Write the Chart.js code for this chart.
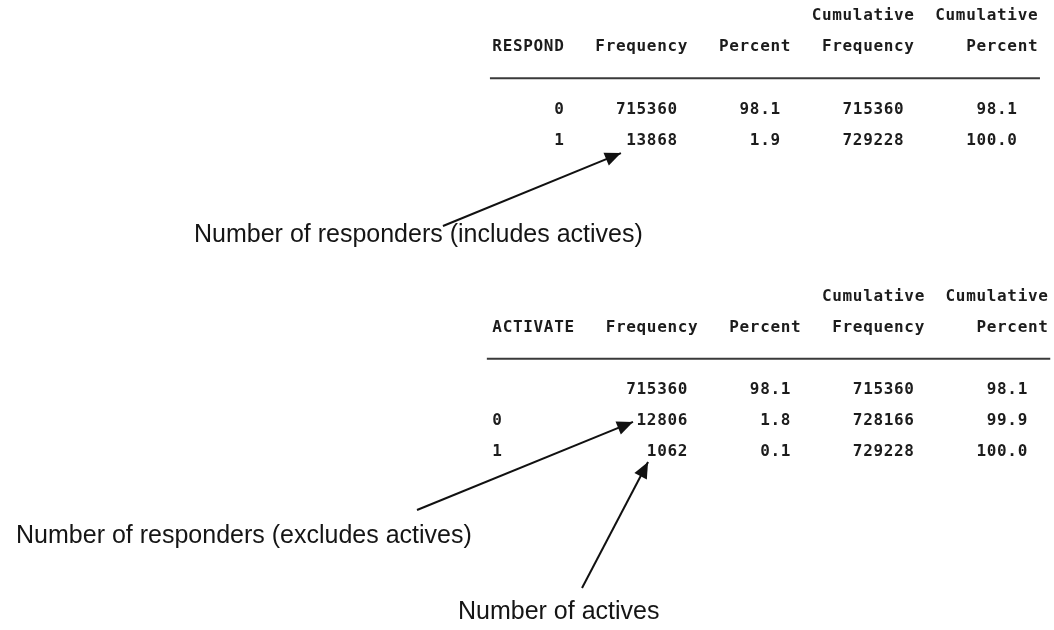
<!DOCTYPE html>
<html>
<head>
<meta charset="utf-8">
<script src="https://cdn.jsdelivr.net/npm/chart.js@4.4.1/dist/chart.umd.min.js"></script>
<style>
  html, body { margin: 0; padding: 0; background: #ffffff; }
  #wrap { width: 1054px; height: 630px; position: relative; }
</style>
</head>
<body>
<div id="wrap"><canvas id="freqChart"></canvas></div>
<script>
// =====================================================
//  DATA — two PROC FREQ listings (RESPOND, ACTIVATE)
// =====================================================
const topHeads      = ["", "", "", "Cumulative", "Cumulative"];
const respondHeads  = ["RESPOND", "Frequency", "Percent", "Frequency", "Percent"];
const activateHeads = ["ACTIVATE", "Frequency", "Percent", "Frequency", "Percent"];

const respondLevels  = ["0", "1"];
const respondFreq    = [715360, 13868];
const respondPct     = [98.1, 1.9];
const respondCumFreq = [715360, 729228];
const respondCumPct  = [98.1, 100.0];

const activateLevels  = ["", "0", "1"];
const activateFreq    = [715360, 12806, 1062];
const activatePct     = [98.1, 1.8, 0.1];
const activateCumFreq = [715360, 728166, 729228];
const activateCumPct  = [98.1, 99.9, 100.0];

const noteTexts = [
  "Number of responders (includes actives)",
  "Number of responders (excludes actives)",
  "Number of actives"
];

// =====================================================
//  LAYOUT — listing grid: x = character column, y = line
// =====================================================
const CHAR_W = 10.3;     // px per character column
const LINE_H = 31.15;    // px per listing line
const ORIGIN_X = 492;    // px of column 0
const ORIGIN_Y = 16;     // px of line 0

const tables = [
  {
    top: 0, heads: respondHeads, levels: respondLevels, levelAlign: "right",
    cols: [respondFreq, respondPct, respondCumFreq, respondCumPct],
    headEnd: [7, 19, 29, 41, 53], valEnd: [7, 18, 28, 40, 51],
    rule: [-0.2, 53.2]
  },
  {
    top: 9, heads: activateHeads, levels: activateLevels, levelAlign: "left",
    cols: [activateFreq, activatePct, activateCumFreq, activateCumPct],
    headEnd: [8, 20, 30, 42, 54], valEnd: [0, 19, 29, 41, 52],
    rule: [-0.5, 54.2]
  }
];

// note label anchors (left edge, middle line) and arrows (tail -> tip)
const notePos = [
  { col: -28.93, line: 7.03 },
  { col: -46.21, line: 16.69 },
  { col: -3.30,  line: 19.13 }
];
const arrowPos = [
  { from: { x: -4.76, y: 6.74 },  to: { x: 12.52, y: 4.40 } },
  { from: { x: -7.28, y: 15.86 }, to: { x: 13.69, y: 13.03 } },
  { from: { x: 8.74,  y: 18.36 }, to: { x: 15.15, y: 14.32 } }
];

const fmtCol = [v => String(v), v => v.toFixed(1), v => String(v), v => v.toFixed(1)];

// rule lines + arrows as line datasets
const datasets = [];
tables.forEach(t => {
  datasets.push({
    data: [{ x: t.rule[0], y: t.top + 2 }, { x: t.rule[1], y: t.top + 2 }],
    showLine: true, borderColor: "#3a3a3a", borderWidth: 2, pointRadius: 0
  });
});
arrowPos.forEach(a => {
  datasets.push({
    data: [a.from, a.to], arrow: true,
    showLine: true, borderColor: "#111111", borderWidth: 2, pointRadius: 0
  });
});

// =====================================================
//  PLUGIN — listing text, notes and arrow heads
// =====================================================
const listingPlugin = {
  id: "listing",
  beforeDraw(chart) {
    const { ctx, width, height } = chart;
    ctx.save();
    ctx.fillStyle = "#ffffff";
    ctx.fillRect(0, 0, width, height);
    ctx.restore();
  },
  afterDatasetsDraw(chart) {
    const { ctx } = chart;
    const xs = chart.scales.x, ys = chart.scales.y;

    // monospace text, one glyph per character cell
    const mono = (text, start, line) => {
      const y = ys.getPixelForValue(line);
      for (let i = 0; i < text.length; i++) {
        ctx.fillText(text[i], xs.getPixelForValue(start + i + 0.5), y);
      }
    };

    ctx.save();
    ctx.fillStyle = "#1c1c1c";
    ctx.font = "bold 16px 'DejaVu Sans Mono'";
    ctx.textAlign = "center";
    ctx.textBaseline = "middle";

    tables.forEach(t => {
      topHeads.forEach((h, i) => { if (h) mono(h, t.headEnd[i] - h.length, t.top); });
      t.heads.forEach((h, i) => mono(h, t.headEnd[i] - h.length, t.top + 1));
      t.levels.forEach((lv, r) => {
        const line = t.top + 3 + r;
        if (lv) mono(lv, t.levelAlign === "left" ? t.valEnd[0] : t.valEnd[0] - lv.length, line);
        t.cols.forEach((col, c) => {
          const s = fmtCol[c](col[r]);
          mono(s, t.valEnd[c + 1] - s.length, line);
        });
      });
    });

    // annotation labels
    ctx.font = "25px 'Liberation Sans', Arial, sans-serif";
    ctx.textAlign = "left";
    ctx.fillStyle = "#151515";
    noteTexts.forEach((txt, i) => {
      ctx.fillText(txt, xs.getPixelForValue(notePos[i].col), ys.getPixelForValue(notePos[i].line));
    });

    // arrow heads at the tip of each arrow dataset
    ctx.fillStyle = "#111111";
    chart.data.datasets.forEach((ds, i) => {
      if (!ds.arrow) return;
      const pts = chart.getDatasetMeta(i).data;
      const p0 = pts[0], p1 = pts[1];
      const ang = Math.atan2(p1.y - p0.y, p1.x - p0.x);
      const len = 16, half = 7;
      ctx.beginPath();
      ctx.moveTo(p1.x, p1.y);
      ctx.lineTo(p1.x - len * Math.cos(ang) + half * Math.sin(ang),
                 p1.y - len * Math.sin(ang) - half * Math.cos(ang));
      ctx.lineTo(p1.x - len * Math.cos(ang) - half * Math.sin(ang),
                 p1.y - len * Math.sin(ang) + half * Math.cos(ang));
      ctx.closePath();
      ctx.fill();
    });
    ctx.restore();
  }
};

// =====================================================
//  CHART
// =====================================================
const xMin = -ORIGIN_X / CHAR_W;
const yMin = -ORIGIN_Y / LINE_H;

new Chart(document.getElementById("freqChart"), {
  type: "scatter",
  data: { datasets },
  options: {
    responsive: true,
    maintainAspectRatio: false,
    animation: false,
    devicePixelRatio: 1,
    layout: { padding: 0 },
    plugins: { legend: { display: false }, tooltip: { enabled: false } },
    scales: {
      x: { type: "linear", display: false, min: xMin, max: xMin + 1054 / CHAR_W },
      y: { type: "linear", display: false, reverse: true, min: yMin, max: yMin + 630 / LINE_H }
    }
  },
  plugins: [listingPlugin]
});
</script>
</body>
</html>
